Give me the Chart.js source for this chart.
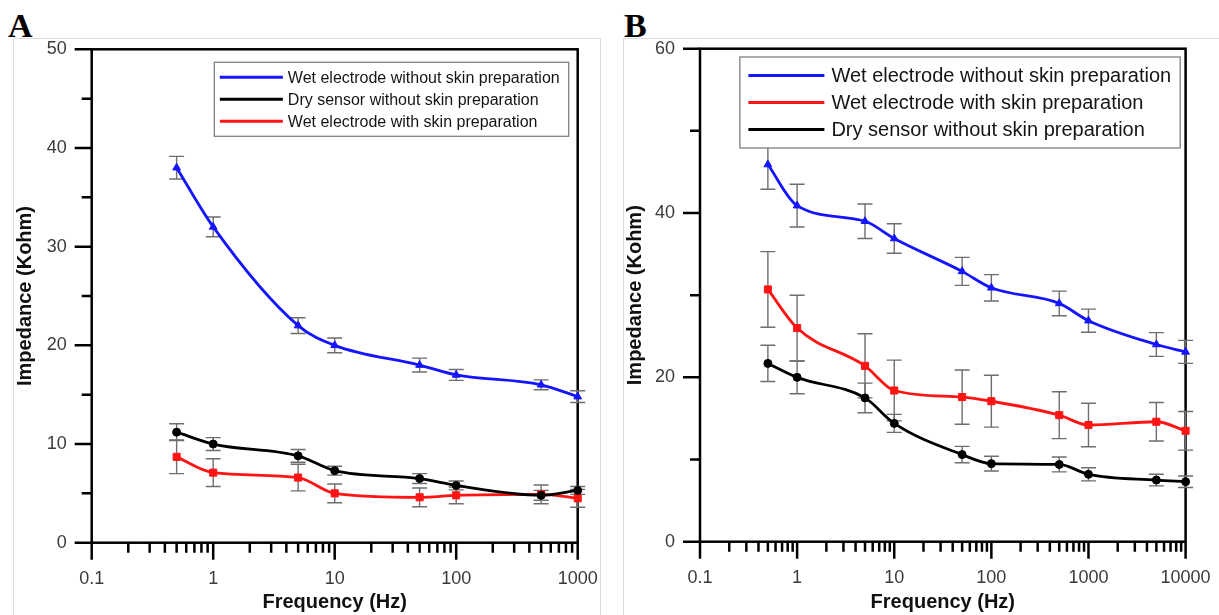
<!DOCTYPE html>
<html>
<head>
<meta charset="utf-8">
<script src="https://cdn.jsdelivr.net/npm/chart.js@4.4.1/dist/chart.umd.min.js"></script>
<style>
  html, body { margin: 0; padding: 0; background: #fff; }
  body { width: 1219px; height: 615px; position: relative; overflow: hidden; }
  .panel { position: absolute; top: 38px; height: 600px; border: 1px solid #dcdcdc; box-sizing: border-box; }
  #panelA { left: 13px; width: 588px; }
  #panelB { left: 623px; width: 620px; }
  .tag { position: absolute; top: 7px; line-height: 34px; font: bold 34px "Liberation Serif", "Times New Roman", serif; color: #000; }
  canvas { position: absolute; top: 38px; }
</style>
</head>
<body>
<div class="panel" id="panelA"></div>
<div class="panel" id="panelB"></div>
<div class="tag" style="left:8px">A</div>
<div class="tag" style="left:624px">B</div>
<canvas id="chartA" width="588" height="577" style="left:13px"></canvas>
<canvas id="chartB" width="596" height="577" style="left:623px"></canvas>
<script>
// Panel A - frequencies (Hz) and impedance (Kohm), mean and error
const freqA = [0.5, 1, 5, 10, 50, 100, 500, 1000];
const wetNoPrepA = [38.0, 32.0, 22.0, 20.0, 18.0, 17.0, 16.0, 14.8];
const wetNoPrepErrA = [1.15, 1.0, 0.8, 0.75, 0.7, 0.55, 0.5, 0.6];
const dryNoPrepA = [11.2, 10.0, 8.8, 7.3, 6.5, 5.8, 4.8, 5.3];
const dryNoPrepErrA = [0.85, 0.65, 0.65, 0.45, 0.5, 0.45, 0.5, 0.4];
const wetPrepA = [8.7, 7.1, 6.6, 5.0, 4.6, 4.8, 4.9, 4.5];
const wetPrepErrA = [1.7, 1.4, 1.35, 0.95, 0.95, 0.85, 0.95, 0.9];

// Panel B
const freqB = [0.5, 1, 5, 10, 50, 100, 500, 1000, 5000, 10000];
const wetNoPrepB = [45.9, 40.9, 39.0, 36.9, 32.9, 30.9, 29.0, 26.9, 24.0, 23.1];
const wetNoPrepErrB = [3.0, 2.6, 2.1, 1.8, 1.7, 1.6, 1.5, 1.4, 1.45, 1.4];
const wetPrepB = [30.7, 26.0, 21.4, 18.4, 17.6, 17.1, 15.4, 14.2, 14.6, 13.5];
const wetPrepErrB = [4.6, 4.0, 3.9, 3.7, 3.3, 3.15, 2.85, 2.65, 2.35, 2.35];
const dryNoPrepB = [21.7, 20.0, 17.5, 14.4, 10.6, 9.5, 9.4, 8.2, 7.5, 7.3];
const dryNoPrepErrB = [2.2, 2.0, 1.8, 1.1, 1.0, 0.9, 0.9, 0.8, 0.7, 0.7];

const LBL_WET_NO_PREP = 'Wet electrode without skin preparation';
const LBL_DRY_NO_PREP = 'Dry sensor without skin preparation';
const LBL_WET_PREP = 'Wet electrode with skin preparation';

const BLUE = '#1414ff';
const RED = '#ff1414';
const BLACK = '#000000';
const FONT = '"Liberation Sans", Arial, Helvetica, sans-serif';

// ticks 0.1, 0.2 ... 0.9, 1, 2 ... up to max (log axis)
function logTicks(max) {
  const out = [];
  for (let e = -1; Math.pow(10, e) <= max; e++) {
    for (let m = 1; m <= 9; m++) {
      const v = parseFloat((m * Math.pow(10, e)).toPrecision(3));
      if (v <= max) out.push(v);
    }
  }
  return out;
}
function isDecade(v) {
  const l = Math.log10(v);
  return Math.abs(l - Math.round(l)) < 1e-9;
}

// frame + outward tick marks (major long, minor short)
const framePlugin = {
  id: 'frame',
  beforeDatasetsDraw(chart) {
    const { ctx, chartArea: a, scales: { x, y } } = chart;
    ctx.save();
    ctx.strokeStyle = '#000';
    ctx.lineWidth = 2.5;
    ctx.beginPath();
    x.ticks.forEach(t => {
      const px = x.getPixelForValue(t.value);
      const len = t.label !== '' ? 17 : 10;
      ctx.moveTo(px, a.bottom);
      ctx.lineTo(px, a.bottom + len);
    });
    y.ticks.forEach(t => {
      const py = y.getPixelForValue(t.value);
      const len = t.label !== '' ? 17 : 10;
      ctx.moveTo(a.left, py);
      ctx.lineTo(a.left - len, py);
    });
    ctx.stroke();
    ctx.strokeRect(a.left, a.top, a.right - a.left, a.bottom - a.top);
    ctx.restore();
  }
};

// vertical error bars with caps, drawn under the lines
const errorBarPlugin = {
  id: 'errorBars',
  beforeDatasetsDraw(chart) {
    const { ctx, scales: { x, y } } = chart;
    ctx.save();
    ctx.strokeStyle = '#6e6e6e';
    ctx.lineWidth = 1.4;
    chart.data.datasets.forEach(ds => {
      if (!ds.errors) return;
      ds.data.forEach((pt, j) => {
        const px = x.getPixelForValue(pt.x);
        const hi = y.getPixelForValue(pt.y + ds.errors[j]);
        const lo = y.getPixelForValue(pt.y - ds.errors[j]);
        ctx.beginPath();
        ctx.moveTo(px, hi); ctx.lineTo(px, lo);
        ctx.moveTo(px - 7.5, hi); ctx.lineTo(px + 7.5, hi);
        ctx.moveTo(px - 7.5, lo); ctx.lineTo(px + 7.5, lo);
        ctx.stroke();
      });
    });
    ctx.restore();
  }
};

// boxed legend inside the plot, top right
const boxLegendPlugin = {
  id: 'boxLegend',
  afterDraw(chart, args, o) {
    const { ctx, chartArea: a } = chart;
    const sets = chart.data.datasets;
    ctx.save();
    ctx.font = o.fontSize + 'px ' + FONT;
    const maxW = Math.max(...sets.map(d => ctx.measureText(d.label).width));
    const w = o.padLeft + o.lineLen + o.gap + maxW + o.padRight;
    const h = sets.length * o.rowH + o.padV * 2;
    const bx = a.right - o.right - w;
    const by = a.top + o.top;
    ctx.fillStyle = '#fff';
    ctx.fillRect(bx, by, w, h);
    ctx.strokeStyle = '#808080';
    ctx.lineWidth = 1.3;
    ctx.strokeRect(bx, by, w, h);
    ctx.textBaseline = 'middle';
    sets.forEach((d, k) => {
      const ry = by + o.padV + o.rowH * (k + 0.5);
      ctx.strokeStyle = d.borderColor;
      ctx.lineWidth = 3;
      ctx.beginPath();
      ctx.moveTo(bx + o.padLeft, ry);
      ctx.lineTo(bx + o.padLeft + o.lineLen, ry);
      ctx.stroke();
      ctx.fillStyle = '#151515';
      ctx.fillText(d.label, bx + o.padLeft + o.lineLen + o.gap, ry + 1);
    });
    ctx.restore();
  }
};

function series(label, freq, vals, errs, color, shape, radius) {
  return {
    label: label,
    data: freq.map((f, i) => ({ x: f, y: vals[i] })),
    errors: errs,
    borderColor: color,
    backgroundColor: color,
    borderWidth: 2.8,
    pointStyle: shape,
    pointRadius: radius,
    pointBorderWidth: 1,
    cubicInterpolationMode: 'monotone',
    clip: false
  };
}

function makeChart(id, datasets, p) {
  const ctx = document.getElementById(id).getContext('2d');
  return new Chart(ctx, {
    type: 'line',
    data: { datasets: datasets },
    plugins: [framePlugin, errorBarPlugin, boxLegendPlugin],
    options: {
      responsive: false,
      animation: false,
      events: [],
      layout: { padding: { left: 0, top: p.padTop, right: p.padRight, bottom: 0 } },
      scales: {
        x: {
          type: 'logarithmic',
          min: 0.1,
          max: p.xMax,
          grid: { display: false, drawTicks: false },
          border: { display: false },
          afterBuildTicks: s => { s.ticks = logTicks(p.xMax).map(v => ({ value: v })); },
          ticks: {
            autoSkip: false,
            maxRotation: 0,
            padding: 26,
            color: '#3a3a3a',
            font: { family: FONT, size: 18 },
            callback: v => (isDecade(v) ? String(v) : '')
          },
          title: {
            display: true,
            text: 'Frequency (Hz)',
            color: '#111',
            font: { family: FONT, size: 20, weight: 'bold' },
            padding: { top: 0, bottom: 1 }
          },
          afterFit: s => { s.height = p.xAxisH; s.paddingLeft = 0; s.paddingRight = 0; }
        },
        y: {
          type: 'linear',
          min: 0,
          max: p.yMax,
          grid: { display: false, drawTicks: false },
          border: { display: false },
          ticks: {
            stepSize: p.yStep,
            autoSkip: false,
            padding: 25,
            color: '#3a3a3a',
            font: { family: FONT, size: 18 },
            callback: v => (v % p.yLabelStep === 0 ? String(v) : '')
          },
          title: {
            display: true,
            text: 'Impedance (Kohm)',
            color: '#111',
            font: { family: FONT, size: 20, weight: 'bold' },
            padding: { top: 0, bottom: 0 }
          },
          afterFit: s => { s.width = p.yAxisW; s.paddingTop = 0; s.paddingBottom = 0; }
        }
      },
      plugins: {
        legend: { display: false },
        tooltip: { enabled: false },
        boxLegend: p.legend
      }
    }
  });
}

makeChart('chartA', [
  series(LBL_WET_NO_PREP, freqA, wetNoPrepA, wetNoPrepErrA, BLUE, 'triangle', 4.5),
  series(LBL_DRY_NO_PREP, freqA, dryNoPrepA, dryNoPrepErrA, BLACK, 'circle', 4),
  series(LBL_WET_PREP, freqA, wetPrepA, wetPrepErrA, RED, 'rect', 5)
], {
  xMax: 1000, yMax: 50, yStep: 5, yLabelStep: 10,
  padTop: 11.3, padRight: 23.3, xAxisH: 72.3, yAxisW: 78.7,
  legend: { fontSize: 16, rowH: 22, padV: 4, right: 9, top: 13, padLeft: 5.5, lineLen: 63, gap: 5, padRight: 9 }
});

makeChart('chartB', [
  series(LBL_WET_NO_PREP, freqB, wetNoPrepB, wetNoPrepErrB, BLUE, 'triangle', 4.5),
  series(LBL_WET_PREP, freqB, wetPrepB, wetPrepErrB, RED, 'rect', 5),
  series(LBL_DRY_NO_PREP, freqB, dryNoPrepB, dryNoPrepErrB, BLACK, 'circle', 4)
], {
  xMax: 10000, yMax: 60, yStep: 10, yLabelStep: 20,
  padTop: 10.7, padRight: 33.4, xAxisH: 73.3, yAxisW: 77,
  legend: { fontSize: 20, rowH: 27, padV: 5, right: 5.4, top: 8.3, padLeft: 8.5, lineLen: 76, gap: 7, padRight: 9 }
});
</script>
</body>
</html>
